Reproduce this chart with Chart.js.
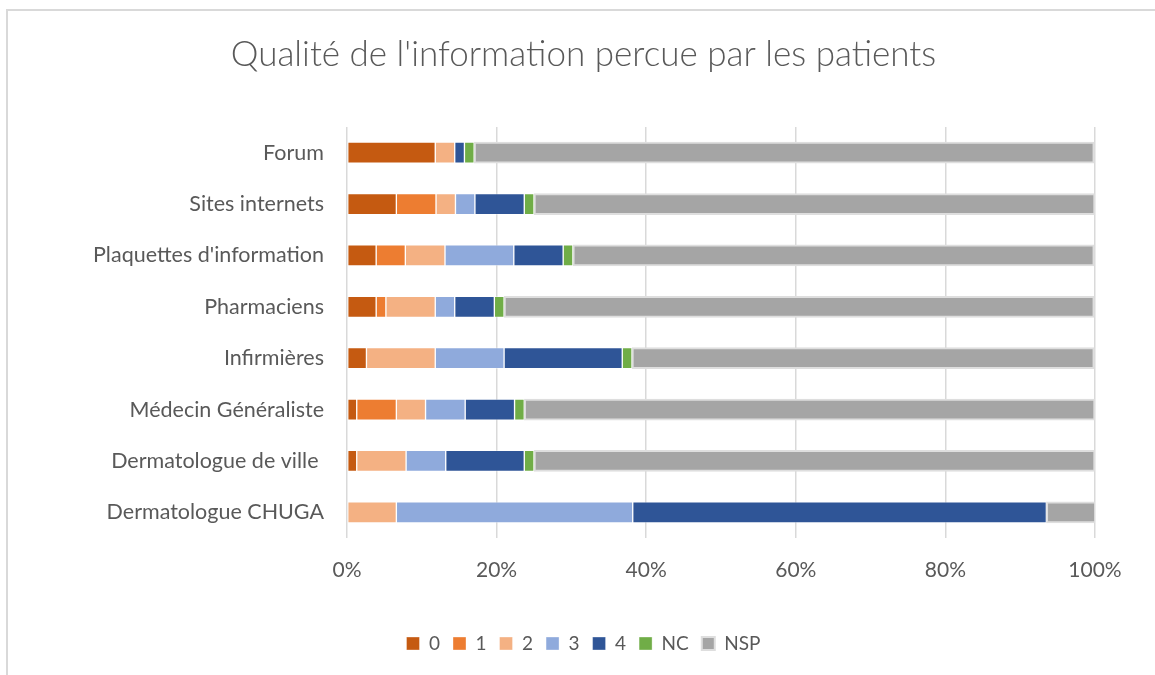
<!DOCTYPE html>
<html>
<head>
<meta charset="utf-8">
<script src="https://cdn.jsdelivr.net/npm/chart.js@4"></script>
<style>
  html, body { margin: 0; padding: 0; background: #fff; overflow: hidden; }
  #frame { position: absolute; left: 6px; top: 9px; width: 1200px; height: 700px; border: 2px solid #d9d9d9; box-sizing: border-box; }
  #wrap { position: absolute; left: 0; top: 0; width: 1155px; height: 675px; }
</style>
</head>
<body>
<div id="frame"></div>
<div id="wrap"><canvas id="c" width="1155" height="675"></canvas></div>
<script>
const categories = ["Forum", "Sites internets", "Plaquettes d'information", "Pharmaciens", "Infirmières", "Médecin Généraliste", "Dermatologue de ville ", "Dermatologue CHUGA"];
const seriesNames = ["0", "1", "2", "3", "4", "NC", "NSP"];
const s0  = [11.8, 6.6, 3.9, 3.9, 2.6, 1.3, 1.3, 0];
const s1  = [0, 5.3, 3.9, 1.3, 0, 5.3, 0, 0];
const s2  = [2.6, 2.6, 5.3, 6.6, 9.2, 3.9, 6.6, 6.6];
const s3  = [0, 2.6, 9.2, 2.6, 9.2, 5.3, 5.3, 31.6];
const s4  = [1.3, 6.6, 6.6, 5.3, 15.8, 6.6, 10.5, 55.3];
const sNC = [1.3, 1.3, 1.3, 1.3, 1.3, 1.3, 1.3, 0];
const sNSP = [82.9, 75.0, 69.7, 78.9, 61.8, 76.3, 75.0, 6.6];
const tickValues = [0, 20, 40, 60, 80, 100];

const colors = ["#C55A11", "#ED7D31", "#F4B183", "#8FAADC", "#2F5597", "#70AD47", "#A5A5A5"];
const values = [s0, s1, s2, s3, s4, sNC, sNSP];

const FONT = "Lato, 'Open Sans', sans-serif";
const TXT = "#595959";

const datasets = seriesNames.map((n, i) => ({
  label: n,
  data: values[i],
  backgroundColor: colors[i],
  borderColor: i === 6 ? "#dedede" : "rgba(255,255,255,0.35)",
  borderWidth: i === 6 ? 2 : 1,
  borderSkipped: false,
  barThickness: 21
}));

new Chart(document.getElementById("c"), {
  type: "bar",
  data: { labels: categories, datasets },
  options: {
    indexAxis: "y",
    responsive: false,
    animation: false,
    layout: { padding: { left: 41, right: 29, top: 0, bottom: 12 } },
    plugins: {
      title: {
        display: true,
        text: "Qualité de l'information percue par les patients",
        color: TXT,
        font: { family: FONT, size: 35, weight: 300 },
        padding: { top: 34, bottom: 51 }
      },
      legend: {
        position: "bottom",
        labels: {
          color: TXT,
          font: { family: FONT, size: 19 },
          boxWidth: 13,
          boxHeight: 13,
          padding: 13
        }
      },
      tooltip: { enabled: false }
    },
    scales: {
      x: {
        stacked: true,
        min: 0,
        max: 100,
        afterBuildTicks: (s) => { s.ticks = tickValues.map(v => ({ value: v })); },
        ticks: {
          color: TXT,
          font: { family: FONT, size: 21 },
          padding: 20,
          callback: (v) => v + "%"
        },
        grid: { color: "#d9d9d9", lineWidth: 1.5, drawTicks: false },
        border: { display: false },
        afterFit: (s) => { s.height = 83; }
      },
      y: {
        stacked: true,
        ticks: {
          color: TXT,
          font: { family: FONT, size: 21.5 },
          padding: 23
        },
        grid: { display: false, drawTicks: false },
        border: { display: false },
        afterFit: (s) => { s.width = 306; }
      },
      yRight: {
        type: "linear",
        axis: "y",
        position: "right",
        display: true,
        ticks: { display: false },
        grid: { display: false, drawTicks: false },
        border: { display: false },
        afterFit: (s) => { s.width = 31; }
      }
    }
  }
});
</script>
</body>
</html>
